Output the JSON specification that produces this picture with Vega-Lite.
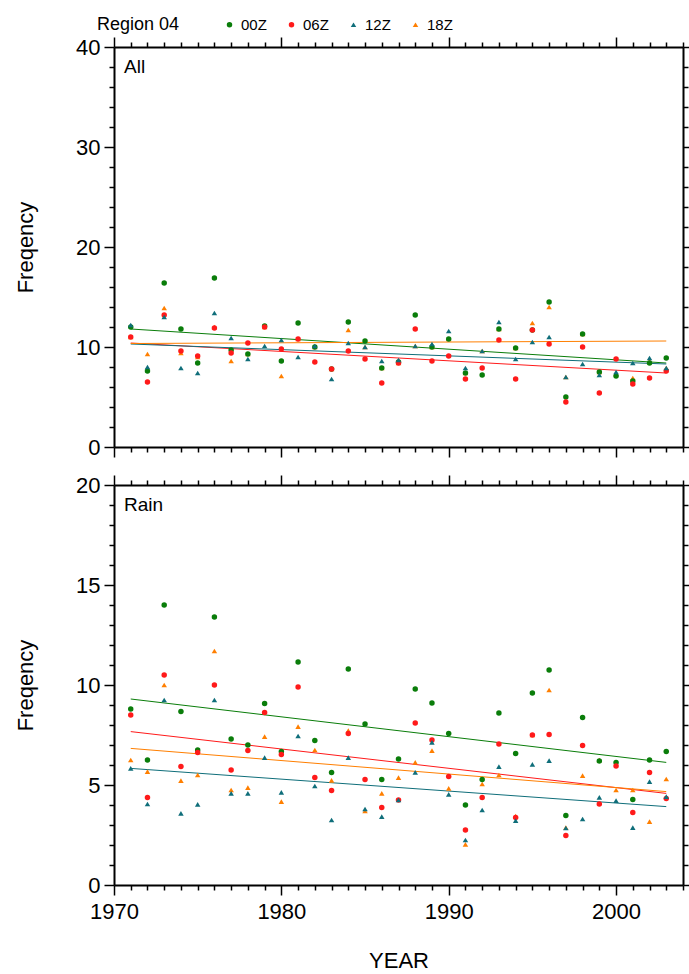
{
  "$schema": "https://vega.github.io/schema/vega-lite/v6.json",
  "background": "white",
  "padding": {"left": 14, "top": 17, "right": 0, "bottom": 0},
  "config": {
    "font": "Liberation Sans",
    "view": {"stroke": null},
    "axis": {
      "domainColor": "black", "domainWidth": 2, "tickColor": "black", "tickWidth": 1.5,
      "grid": false, "labelFontSize": 22, "labelColor": "black", "titleFontSize": 22,
      "titleFontWeight": "normal", "titleColor": "black", "labelFont": "Liberation Sans",
      "titleFont": "Liberation Sans", "labelPadding": 4, "labelOverlap": false, "labelFlush": false
    },
    "title": {"font": "Liberation Sans", "fontWeight": "normal", "color": "black"}
  },
  "datasets": {
    "pts": [
      {"p":"All","year":1971,"00Z":12.0,"06Z":11.0,"12Z":12.2,"18Z":11.0},
      {"p":"All","year":1972,"00Z":7.6,"06Z":6.5,"12Z":8.0,"18Z":9.3},
      {"p":"All","year":1973,"00Z":16.4,"06Z":13.2,"12Z":13.0,"18Z":13.9},
      {"p":"All","year":1974,"00Z":11.8,"06Z":9.6,"12Z":7.9,"18Z":9.4},
      {"p":"All","year":1975,"00Z":8.4,"06Z":9.1,"12Z":7.4,"18Z":9.0},
      {"p":"All","year":1976,"00Z":16.9,"06Z":11.9,"12Z":13.4,"18Z":12.0},
      {"p":"All","year":1977,"00Z":9.7,"06Z":9.4,"12Z":10.9,"18Z":8.6},
      {"p":"All","year":1978,"00Z":9.3,"06Z":10.4,"12Z":8.8,"18Z":9.3},
      {"p":"All","year":1979,"00Z":12.1,"06Z":12.0,"12Z":10.1,"18Z":12.0},
      {"p":"All","year":1980,"00Z":8.6,"06Z":9.8,"12Z":10.7,"18Z":7.1},
      {"p":"All","year":1981,"00Z":12.4,"06Z":10.8,"12Z":9.0,"18Z":10.8},
      {"p":"All","year":1982,"00Z":10.0,"06Z":8.5,"12Z":10.1,"18Z":10.0},
      {"p":"All","year":1983,"00Z":7.8,"06Z":7.8,"12Z":6.8,"18Z":7.8},
      {"p":"All","year":1984,"00Z":12.5,"06Z":9.6,"12Z":10.4,"18Z":11.7},
      {"p":"All","year":1985,"00Z":10.6,"06Z":8.8,"12Z":10.0,"18Z":10.0},
      {"p":"All","year":1986,"00Z":7.9,"06Z":6.4,"12Z":8.6,"18Z":7.9},
      {"p":"All","year":1987,"00Z":8.5,"06Z":8.4,"12Z":8.7,"18Z":8.4},
      {"p":"All","year":1988,"00Z":13.2,"06Z":11.8,"12Z":10.1,"18Z":10.1},
      {"p":"All","year":1989,"00Z":10.0,"06Z":8.6,"12Z":10.3,"18Z":10.0},
      {"p":"All","year":1990,"00Z":10.8,"06Z":9.1,"12Z":11.6,"18Z":10.8},
      {"p":"All","year":1991,"00Z":7.4,"06Z":6.8,"12Z":7.9,"18Z":7.4},
      {"p":"All","year":1992,"00Z":7.2,"06Z":7.9,"12Z":9.6,"18Z":9.6},
      {"p":"All","year":1993,"00Z":11.8,"06Z":10.7,"12Z":12.5,"18Z":11.8},
      {"p":"All","year":1994,"00Z":9.9,"06Z":6.8,"12Z":8.8,"18Z":9.9},
      {"p":"All","year":1995,"00Z":11.7,"06Z":11.7,"12Z":10.5,"18Z":12.4},
      {"p":"All","year":1996,"00Z":14.5,"06Z":10.3,"12Z":11.0,"18Z":14.0},
      {"p":"All","year":1997,"00Z":5.0,"06Z":4.5,"12Z":7.0,"18Z":7.0},
      {"p":"All","year":1998,"00Z":11.3,"06Z":10.0,"12Z":8.3,"18Z":11.3},
      {"p":"All","year":1999,"00Z":7.5,"06Z":5.4,"12Z":7.2,"18Z":7.5},
      {"p":"All","year":2000,"00Z":7.1,"06Z":8.8,"12Z":7.5,"18Z":7.3},
      {"p":"All","year":2001,"00Z":6.6,"06Z":6.3,"12Z":8.4,"18Z":6.9},
      {"p":"All","year":2002,"00Z":8.4,"06Z":6.9,"12Z":8.9,"18Z":8.6},
      {"p":"All","year":2003,"00Z":8.9,"06Z":7.6,"12Z":7.9,"18Z":7.9},
      {"p":"Rain","year":1971,"00Z":8.8,"06Z":8.5,"12Z":5.83,"18Z":6.25},
      {"p":"Rain","year":1972,"00Z":6.25,"06Z":4.38,"12Z":4.05,"18Z":5.67},
      {"p":"Rain","year":1973,"00Z":14.0,"06Z":10.5,"12Z":9.25,"18Z":10.0},
      {"p":"Rain","year":1974,"00Z":8.67,"06Z":5.92,"12Z":3.58,"18Z":5.22},
      {"p":"Rain","year":1975,"00Z":6.75,"06Z":6.63,"12Z":4.03,"18Z":5.5},
      {"p":"Rain","year":1976,"00Z":13.4,"06Z":10.0,"12Z":9.25,"18Z":11.7},
      {"p":"Rain","year":1977,"00Z":7.3,"06Z":5.75,"12Z":4.58,"18Z":4.75},
      {"p":"Rain","year":1978,"00Z":7.0,"06Z":6.72,"12Z":4.58,"18Z":4.87},
      {"p":"Rain","year":1979,"00Z":9.08,"06Z":8.63,"12Z":6.37,"18Z":7.42},
      {"p":"Rain","year":1980,"00Z":6.67,"06Z":6.53,"12Z":4.63,"18Z":4.17},
      {"p":"Rain","year":1981,"00Z":11.15,"06Z":9.9,"12Z":7.45,"18Z":7.92},
      {"p":"Rain","year":1982,"00Z":7.23,"06Z":5.37,"12Z":4.95,"18Z":6.75},
      {"p":"Rain","year":1983,"00Z":5.63,"06Z":4.72,"12Z":3.25,"18Z":5.23},
      {"p":"Rain","year":1984,"00Z":10.8,"06Z":7.58,"12Z":6.37,"18Z":7.72},
      {"p":"Rain","year":1985,"00Z":8.05,"06Z":5.28,"12Z":3.8,"18Z":3.7},
      {"p":"Rain","year":1986,"00Z":5.28,"06Z":3.87,"12Z":3.42,"18Z":4.58},
      {"p":"Rain","year":1987,"00Z":6.3,"06Z":4.25,"12Z":4.25,"18Z":5.37},
      {"p":"Rain","year":1988,"00Z":9.8,"06Z":8.1,"12Z":5.63,"18Z":6.13},
      {"p":"Rain","year":1989,"00Z":9.1,"06Z":7.25,"12Z":7.13,"18Z":6.72},
      {"p":"Rain","year":1990,"00Z":7.58,"06Z":5.43,"12Z":4.53,"18Z":4.83},
      {"p":"Rain","year":1991,"00Z":4.0,"06Z":2.75,"12Z":2.25,"18Z":2.03},
      {"p":"Rain","year":1992,"00Z":5.28,"06Z":4.37,"12Z":3.75,"18Z":5.05},
      {"p":"Rain","year":1993,"00Z":8.6,"06Z":7.05,"12Z":5.92,"18Z":5.5},
      {"p":"Rain","year":1994,"00Z":6.58,"06Z":3.38,"12Z":3.22,"18Z":3.45},
      {"p":"Rain","year":1995,"00Z":9.6,"06Z":7.5,"12Z":6.03,"18Z":7.5},
      {"p":"Rain","year":1996,"00Z":10.75,"06Z":7.53,"12Z":6.22,"18Z":9.75},
      {"p":"Rain","year":1997,"00Z":3.47,"06Z":2.47,"12Z":2.85,"18Z":2.87},
      {"p":"Rain","year":1998,"00Z":8.37,"06Z":6.97,"12Z":3.3,"18Z":5.47},
      {"p":"Rain","year":1999,"00Z":6.2,"06Z":4.05,"12Z":4.38,"18Z":6.25},
      {"p":"Rain","year":2000,"00Z":6.13,"06Z":5.95,"12Z":4.22,"18Z":4.75},
      {"p":"Rain","year":2001,"00Z":4.28,"06Z":3.63,"12Z":2.87,"18Z":4.75},
      {"p":"Rain","year":2002,"00Z":6.25,"06Z":5.62,"12Z":5.17,"18Z":3.17},
      {"p":"Rain","year":2003,"00Z":6.67,"06Z":4.33,"12Z":4.42,"18Z":5.3}
    ],
    "trend": [
      {"p":"All","t":"00Z","year":1971,"v":11.8},{"p":"All","t":"00Z","year":2003,"v":8.4},
      {"p":"All","t":"06Z","year":1971,"v":10.4},{"p":"All","t":"06Z","year":2003,"v":7.4},
      {"p":"All","t":"12Z","year":1971,"v":10.3},{"p":"All","t":"12Z","year":2003,"v":8.3},
      {"p":"All","t":"18Z","year":1971,"v":10.35},{"p":"All","t":"18Z","year":2003,"v":10.6},
      {"p":"Rain","t":"00Z","year":1971,"v":9.3},{"p":"Rain","t":"00Z","year":2003,"v":6.13},
      {"p":"Rain","t":"06Z","year":1971,"v":7.67},{"p":"Rain","t":"06Z","year":2003,"v":4.58},
      {"p":"Rain","t":"12Z","year":1971,"v":5.83},{"p":"Rain","t":"12Z","year":2003,"v":3.92},
      {"p":"Rain","t":"18Z","year":1971,"v":6.83},{"p":"Rain","t":"18Z","year":2003,"v":4.67}
    ]
  },
  "resolve": {"scale": {"color": "independent", "shape": "independent", "size": "independent"}},
  "spacing": 16,
  "vconcat": [
    {
      "width": 569, "height": 400,
      "layer": [
        {
          "data": {"name": "trend"},
          "transform": [{"filter": "datum.p === 'All'"}],
          "mark": {"type": "line", "strokeWidth": 1},
          "encoding": {
            "x": {"field": "year", "type": "quantitative", "scale": {"domain": [1970, 2004], "nice": false, "zero": false},
              "axis": {"orient": "top", "labels": false, "title": null,
                "values": [1970,1971,1972,1973,1974,1975,1976,1977,1978,1979,1980,1981,1982,1983,1984,1985,1986,1987,1988,1989,1990,1991,1992,1993,1994,1995,1996,1997,1998,1999,2000,2001,2002,2003,2004],
                "tickSize": {"condition": {"test": "datum.value % 10 === 0", "value": 10}, "value": 5}}},
            "y": {"field": "v", "type": "quantitative", "scale": {"domain": [0, 40], "nice": false},
              "axis": {"orient": "right", "labels": false, "title": null,
                "values": [0,2,4,6,8,10,12,14,16,18,20,22,24,26,28,30,32,34,36,38,40],
                "tickSize": {"condition": {"test": "datum.value % 10 === 0", "value": 10}, "value": 5}}},
            "stroke": {"field": "t", "type": "nominal", "legend": null,
              "scale": {"domain": ["00Z","06Z","12Z","18Z"], "range": ["#0a7d0a","#ff1a1a","#0f6e7a","#ff7f00"]}},
            "detail": {"field": "t"}
          }
        },
        {
          "data": {"name": "pts"},
          "transform": [{"filter": "datum.p === 'All'"}, {"fold": ["18Z","00Z","06Z","12Z"], "as": ["t","v"]}],
          "mark": {"type": "point", "filled": true, "opacity": 1},
          "encoding": {
            "x": {"field": "year", "type": "quantitative",
              "axis": {"orient": "bottom", "labels": false, "title": null,
                "values": [1970,1971,1972,1973,1974,1975,1976,1977,1978,1979,1980,1981,1982,1983,1984,1985,1986,1987,1988,1989,1990,1991,1992,1993,1994,1995,1996,1997,1998,1999,2000,2001,2002,2003,2004],
                "tickSize": {"condition": {"test": "datum.value % 10 === 0", "value": 10}, "value": 5}}},
            "y": {"field": "v", "type": "quantitative",
              "axis": {"orient": "left", "title": "Freqency", "titlePadding": 38,
                "values": [0,2,4,6,8,10,12,14,16,18,20,22,24,26,28,30,32,34,36,38,40],
                "labelExpr": "datum.value % 10 === 0 ? datum.label : ''",
                "tickSize": {"condition": {"test": "datum.value % 10 === 0", "value": 10}, "value": 5}}},
            "size": {"field": "t", "type": "nominal", "legend": null,
              "scale": {"domain": ["00Z","06Z","12Z","18Z"], "range": [30, 30, 38, 38]}},
            "color": {"field": "t", "type": "nominal",
              "scale": {"domain": ["00Z","06Z","12Z","18Z"], "range": ["#0a7d0a","#ff1a1a","#0f6e7a","#ff7f00"]},
              "legend": {"title": "Region 04", "titleOrient": "left", "titleFontSize": 18, "titleFontWeight": "normal", "titleFont": "Liberation Sans", "titleColor": "black", "titlePadding": 42, "titleBaseline": "middle", "titleAnchor": "middle",
                "orient": "none", "legendX": -17, "legendY": -30, "direction": "horizontal", "columns": 4,
                "labelFontSize": 15, "labelFont": "Liberation Sans", "labelColor": "black", "symbolSize": 16, "labelOffset": 4, "columnPadding": 17}},
            "shape": {"field": "t", "type": "nominal",
              "scale": {"domain": ["00Z","06Z","12Z","18Z"], "range": ["circle","circle","triangle-up","triangle-up"]},
              "legend": {"title": "Region 04", "titleOrient": "left", "titleFontSize": 18, "titleFontWeight": "normal", "titleFont": "Liberation Sans", "titleColor": "black", "titlePadding": 42, "titleBaseline": "middle", "titleAnchor": "middle",
                "orient": "none", "legendX": -17, "legendY": -30, "direction": "horizontal", "columns": 4,
                "labelFontSize": 15, "labelFont": "Liberation Sans", "labelColor": "black", "symbolSize": 16, "labelOffset": 4, "columnPadding": 17}}
          }
        },
        {
          "data": {"values": [{"label": "All"}]},
          "mark": {"type": "text", "align": "left", "baseline": "middle", "fontSize": 19, "font": "Liberation Sans", "color": "black"},
          "encoding": {
            "x": {"datum": 1970.6, "type": "quantitative", "axis": null},
            "y": {"datum": 38.0, "type": "quantitative", "axis": null},
            "text": {"field": "label"}
          }
        }
      ],
      "resolve": {"axis": {"x": "independent", "y": "independent"}}
    },
    {
      "width": 569, "height": 400,
      "layer": [
        {
          "data": {"name": "trend"},
          "transform": [{"filter": "datum.p === 'Rain'"}],
          "mark": {"type": "line", "strokeWidth": 1},
          "encoding": {
            "x": {"field": "year", "type": "quantitative", "scale": {"domain": [1970, 2004], "nice": false, "zero": false},
              "axis": {"orient": "top", "labels": false, "title": null,
                "values": [1970,1971,1972,1973,1974,1975,1976,1977,1978,1979,1980,1981,1982,1983,1984,1985,1986,1987,1988,1989,1990,1991,1992,1993,1994,1995,1996,1997,1998,1999,2000,2001,2002,2003,2004],
                "tickSize": {"condition": {"test": "datum.value % 10 === 0", "value": 10}, "value": 5}}},
            "y": {"field": "v", "type": "quantitative", "scale": {"domain": [0, 20], "nice": false},
              "axis": {"orient": "right", "labels": false, "title": null,
                "values": [0,1,2,3,4,5,6,7,8,9,10,11,12,13,14,15,16,17,18,19,20],
                "tickSize": {"condition": {"test": "datum.value % 5 === 0", "value": 10}, "value": 5}}},
            "stroke": {"field": "t", "type": "nominal", "legend": null,
              "scale": {"domain": ["00Z","06Z","12Z","18Z"], "range": ["#0a7d0a","#ff1a1a","#0f6e7a","#ff7f00"]}},
            "detail": {"field": "t"}
          }
        },
        {
          "data": {"name": "pts"},
          "transform": [{"filter": "datum.p === 'Rain'"}, {"fold": ["18Z","00Z","06Z","12Z"], "as": ["t","v"]}],
          "mark": {"type": "point", "filled": true, "opacity": 1},
          "encoding": {
            "x": {"field": "year", "type": "quantitative",
              "axis": {"orient": "bottom", "title": "YEAR", "titlePadding": 28, "labelPadding": 6, "format": "d",
                "values": [1970,1971,1972,1973,1974,1975,1976,1977,1978,1979,1980,1981,1982,1983,1984,1985,1986,1987,1988,1989,1990,1991,1992,1993,1994,1995,1996,1997,1998,1999,2000,2001,2002,2003,2004],
                "labelExpr": "datum.value % 10 === 0 ? datum.label : ''",
                "tickSize": {"condition": {"test": "datum.value % 10 === 0", "value": 10}, "value": 5}}},
            "y": {"field": "v", "type": "quantitative",
              "axis": {"orient": "left", "title": "Freqency", "titlePadding": 38,
                "values": [0,1,2,3,4,5,6,7,8,9,10,11,12,13,14,15,16,17,18,19,20],
                "labelExpr": "datum.value % 5 === 0 ? datum.label : ''",
                "tickSize": {"condition": {"test": "datum.value % 5 === 0", "value": 10}, "value": 5}}},
            "size": {"field": "t", "type": "nominal", "legend": null,
              "scale": {"domain": ["00Z","06Z","12Z","18Z"], "range": [30, 30, 38, 38]}},
            "color": {"field": "t", "type": "nominal", "legend": null,
              "scale": {"domain": ["00Z","06Z","12Z","18Z"], "range": ["#0a7d0a","#ff1a1a","#0f6e7a","#ff7f00"]}},
            "shape": {"field": "t", "type": "nominal", "legend": null,
              "scale": {"domain": ["00Z","06Z","12Z","18Z"], "range": ["circle","circle","triangle-up","triangle-up"]}}
          }
        },
        {
          "data": {"values": [{"label": "Rain"}]},
          "mark": {"type": "text", "align": "left", "baseline": "middle", "fontSize": 19, "font": "Liberation Sans", "color": "black"},
          "encoding": {
            "x": {"datum": 1970.6, "type": "quantitative", "axis": null},
            "y": {"datum": 19.0, "type": "quantitative", "axis": null},
            "text": {"field": "label"}
          }
        }
      ],
      "resolve": {"axis": {"x": "independent", "y": "independent"}}
    }
  ]
}
